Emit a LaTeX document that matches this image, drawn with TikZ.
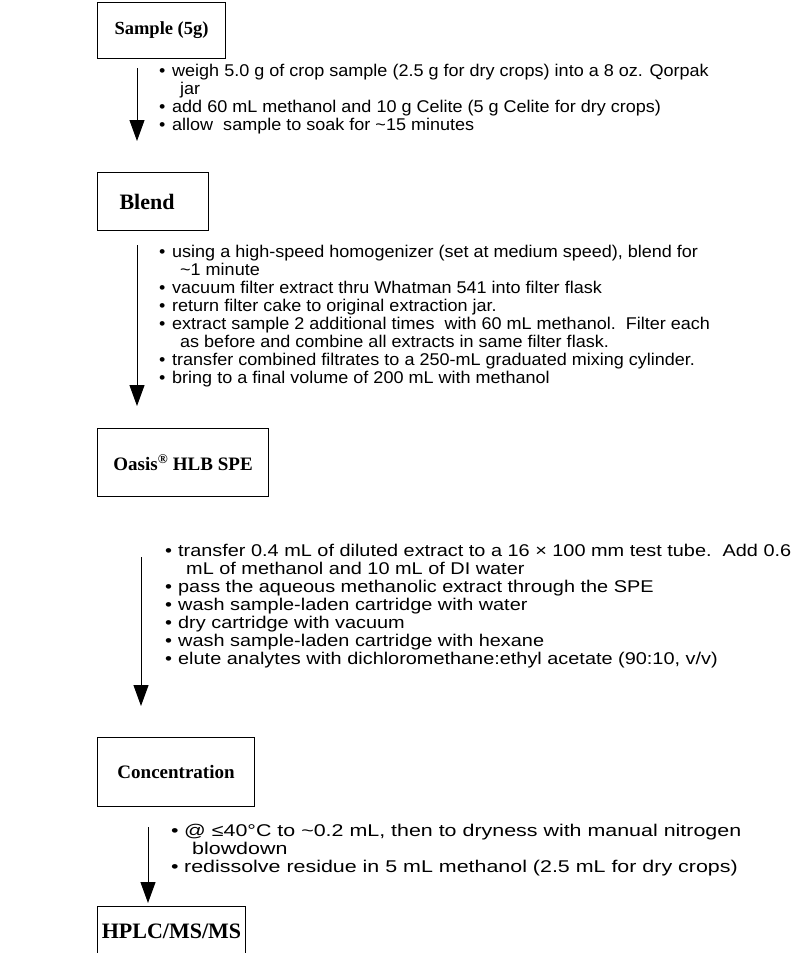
\documentclass[tikz,border=0pt]{standalone}
\usepackage{fontspec}
\setmainfont{Liberation Serif}
\setsansfont{Liberation Sans}
\newfontfamily\notesfont{Liberation Sans}[FakeStretch=1.06]
\newfontfamily\notesfontwide{Liberation Sans}[FakeStretch=1.17]
\newfontfamily\notesfontwider{Liberation Sans}[FakeStretch=1.26]
\usetikzlibrary{arrows.meta, positioning}

\tikzset{
  stepbox/.style={draw, line width=1.1pt, anchor=north west, inner sep=0pt,
    minimum width=#1, font=\rmfamily\bfseries},
  notes/.style={anchor=north west, inner sep=0pt, align=left,
    font=\notesfont\fontsize{17}{18}\selectfont},
  flow/.style={line width=1pt, -{Triangle[width=15pt,length=21pt]}}
}
\newcommand{\itm}{\makebox[13pt][l]{\textbullet}}
\newcommand{\cnt}{\hspace*{21pt}}

\begin{document}
\begin{tikzpicture}[x=1pt, y=-1pt]
  \clip (0,0) rectangle (811,953);
  \fill[white] (0,0) rectangle (811,953);

  % steps
  \node[stepbox=128pt, minimum height=56pt] (sample) at (97,2) {\fontsize{18.5}{22}\selectfont Sample (5g)};
  \node[stepbox=111pt, minimum height=58pt] (blend) at (97,172) {\fontsize{22}{24}\selectfont\hspace*{-12pt}Blend};
  \node[stepbox=171pt, minimum height=68pt] (oasis) at (97,428) {\fontsize{19}{22}\selectfont Oasis\textsuperscript{\textregistered} HLB SPE};
  \node[stepbox=157pt, minimum height=69pt] (conc) at (97,737) {\fontsize{19}{22}\selectfont Concentration};
  \node[stepbox=148pt, minimum height=50pt] (hplc) at (97,906) {\fontsize{22}{24}\selectfont HPLC/MS/MS};

  % arrows
  \coordinate (a1) at (137,68);
  \coordinate (b1) at (137,141);
  \coordinate (a2) at (137,245);
  \coordinate (b2) at (137,406);
  \coordinate (a3) at (141,557);
  \coordinate (b3) at (141,706);
  \coordinate (a4) at (148,827);
  \coordinate (b4) at (148,903);
  \draw[flow] (a1) -- (b1);
  \draw[flow] (a2) -- (b2);
  \draw[flow] (a3) -- (b3);
  \draw[flow] (a4) -- (b4);

  % notes
  \node[notes] (n1) at (159,64) {%
    \itm weigh 5.0 g of crop sample (2.5 g for dry crops) into a 8 oz. Qorpak\\
    \cnt jar\\
    \itm add 60 mL methanol and 10 g Celite (5 g Celite for dry crops)\\
    \itm allow\ \ sample to soak for \textasciitilde15 minutes};
  \node[notes] (n2) at (159,245) {%
    \itm using a high-speed homogenizer (set at medium speed), blend for\\
    \cnt\textasciitilde1 minute\\
    \itm vacuum filter extract thru Whatman 541 into filter flask\\
    \itm return filter cake to original extraction jar.\\
    \itm extract sample 2 additional times\ \ with 60 mL methanol.\ \ Filter each\\
    \cnt as before and combine all extracts in same filter flask.\\
    \itm transfer combined filtrates to a 250-mL graduated mixing cylinder.\\
    \itm bring to a final volume of 200 mL with methanol};
  \node[notes, font=\notesfontwide\fontsize{17}{18}\selectfont] (n3) at (165,544) {%
    \itm transfer 0.4 mL of diluted extract to a 16 × 100 mm test tube.\ \ Add 0.6\\
    \cnt mL of methanol and 10 mL of DI water\\
    \itm pass the aqueous methanolic extract through the SPE\\
    \itm wash sample-laden cartridge with water\\
    \itm dry cartridge with vacuum\\
    \itm wash sample-laden cartridge with hexane\\
    \itm elute analytes with dichloromethane:ethyl acetate (90:10, v/v)};
  \node[notes, font=\notesfontwider\fontsize{17}{18}\selectfont] (n4) at (171,824) {%
    \itm @ ≤40°C to \textasciitilde0.2 mL, then to dryness with manual nitrogen\\
    \cnt blowdown\\
    \itm redissolve residue in 5 mL methanol (2.5 mL for dry crops)};
\end{tikzpicture}
\end{document}
